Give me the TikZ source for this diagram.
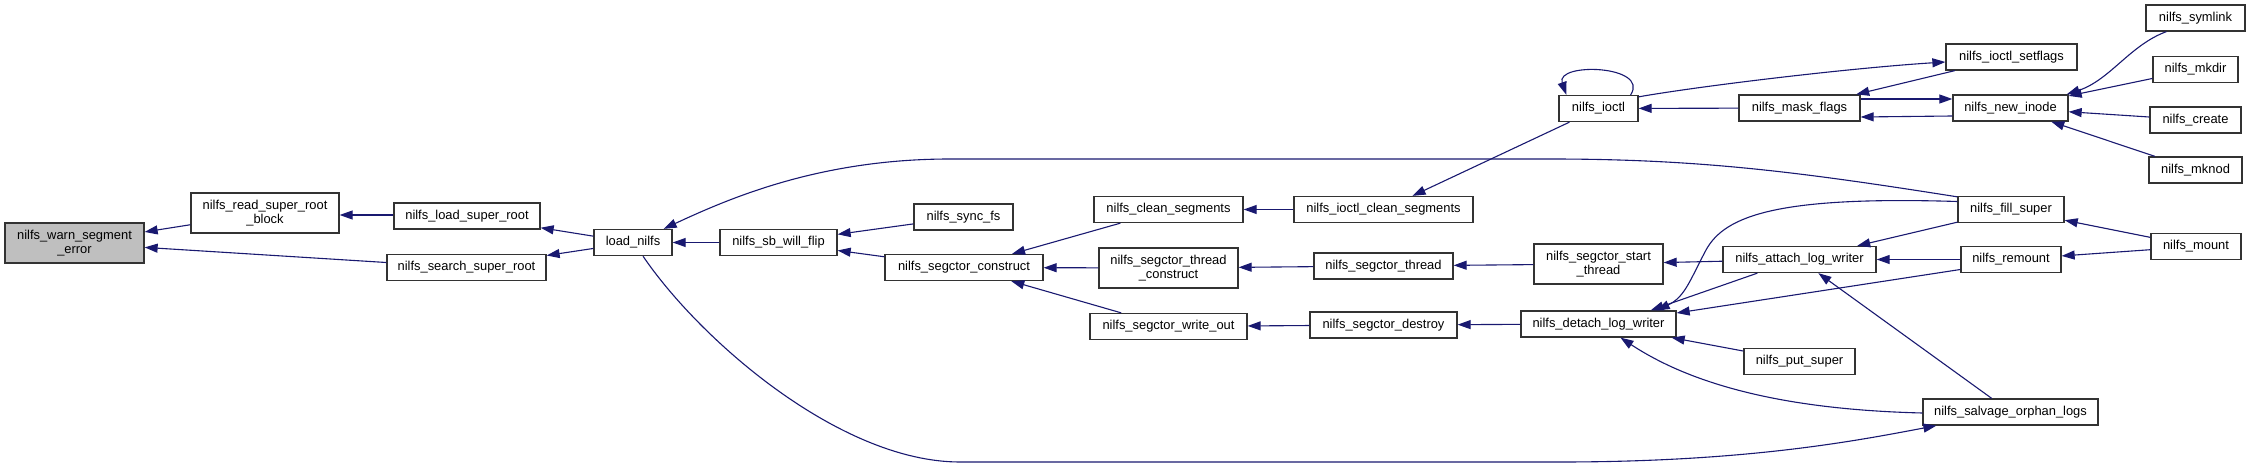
\documentclass[tikz,border=0pt]{standalone}
\usepackage{fontspec}
\setmainfont{Liberation Sans}
\usetikzlibrary{arrows.meta,calc}
\definecolor{edgecol}{HTML}{191970}
\definecolor{boxcol}{HTML}{333333}
\definecolor{rootfill}{HTML}{BFBFBF}
\begin{document}
\begin{tikzpicture}[x=1pt,y=-1pt,
  fn/.style={draw=boxcol,line width=1.3pt,fill=white,rectangle,inner sep=0pt,minimum height=26pt,align=center,font=\fontsize{12.9}{14.5}\selectfont},
  fn2/.style={fn,minimum height=40pt},
  e/.style={draw=edgecol,line width=1.1pt,-{Triangle[length=13pt,width=9pt]}}]
\useasboundingbox (0,0) rectangle (2251,468);
% nodes
\node[fn2,fill=rootfill,minimum width=139pt] (warn) at (74.5,243) {nilfs\_warn\_segment\\\_error};
\node[fn2,minimum width=148pt] (rsrb) at (265,213) {nilfs\_read\_super\_root\\\_block};
\node[fn,minimum width=146pt] (lsr) at (467,216) {nilfs\_load\_super\_root};
\node[fn,minimum width=159pt] (ssr) at (466.5,267.5) {nilfs\_search\_super\_root};
\node[fn,minimum width=78pt] (ln) at (633,242.5) {load\_nilfs};
\node[fn,minimum width=117pt] (sbwf) at (778.5,242.5) {nilfs\_sb\_will\_flip};
\node[fn,minimum width=99pt] (sync) at (963.5,217) {nilfs\_sync\_fs};
\node[fn,minimum width=158pt] (sc) at (964,267.5) {nilfs\_segctor\_construct};
\node[fn,minimum width=149pt] (clean) at (1168.5,209.5) {nilfs\_clean\_segments};
\node[fn2,minimum width=139pt] (tc) at (1168.5,268) {nilfs\_segctor\_thread\\\_construct};
\node[fn,minimum width=157pt] (wo) at (1168.5,326.5) {nilfs\_segctor\_write\_out};
\node[fn,minimum width=179pt] (icl) at (1383.5,209.5) {nilfs\_ioctl\_clean\_segments};
\node[fn,minimum width=139pt] (thr) at (1383.5,266) {nilfs\_segctor\_thread};
\node[fn,minimum width=147pt] (des) at (1383.5,325) {nilfs\_segctor\_destroy};
\node[fn,minimum width=79pt] (ioctl) at (1598.5,108.5) {nilfs\_ioctl};
\node[fn2,minimum width=129pt] (st) at (1598.5,264) {nilfs\_segctor\_start\\\_thread};
\node[fn,minimum width=155pt] (det) at (1598.5,324) {nilfs\_detach\_log\_writer};
\node[fn,minimum width=121pt] (mask) at (1799.5,108) {nilfs\_mask\_flags};
\node[fn,minimum width=153pt] (att) at (1799.5,259.5) {nilfs\_attach\_log\_writer};
\node[fn,minimum width=111pt] (put) at (1799.5,361.5) {nilfs\_put\_super};
\node[fn,minimum width=131pt] (setfl) at (2011.5,57) {nilfs\_ioctl\_setflags};
\node[fn,minimum width=115pt] (newi) at (2010.5,108) {nilfs\_new\_inode};
\node[fn,minimum width=106pt] (fill) at (2011,209.5) {nilfs\_fill\_super};
\node[fn,minimum width=100pt] (rem) at (2011,259.5) {nilfs\_remount};
\node[fn,minimum width=175pt] (salv) at (2010.5,412) {nilfs\_salvage\_orphan\_logs};
\node[fn,minimum width=99pt] (sym) at (2195.5,18) {nilfs\_symlink};
\node[fn,minimum width=85pt] (mkdir) at (2195.5,69.5) {nilfs\_mkdir};
\node[fn,minimum width=91pt] (create) at (2195.5,120) {nilfs\_create};
\node[fn,minimum width=93pt] (mknod) at (2195.5,170) {nilfs\_mknod};
\node[fn,minimum width=90pt] (mount) at (2196,246.5) {nilfs\_mount};
% edges
\draw[e] (rsrb) -- (warn);
\draw[e] (ssr) -- (warn);
\draw[e] ($(lsr.west)+(0,-1)$) -- ($(rsrb.east)+(0,2)$);
\draw[e] (ln) -- (lsr);
\draw[e] (ln) -- (ssr);
\draw[e] (sbwf) -- (ln);
\draw[e] ($(fill.north west)+(0,1)$) .. controls (1800,172) and (1700,159) .. (1550,159) -- (950,159) .. controls (820,159) and (730,198) .. ($(ln.north east)+(-9,0)$);
\draw[e] ($(ln.south)+(10,0)$) .. controls (700,340) and (840,462) .. (960,462) -- (1560,462) .. controls (1750,462) and (1860,440) .. ($(salv.south west)+(14,0)$);
\draw[e] (sync) -- (sbwf);
\draw[e] (sc) -- (sbwf);
\draw[e] (clean) -- (sc);
\draw[e] (tc) -- (sc);
\draw[e] (wo) -- (sc);
\draw[e] (icl) -- (clean);
\draw[e] (thr) -- (tc);
\draw[e] (des) -- (wo);
\draw[e] (st) -- (thr);
\draw[e] (det) -- (des);
\draw[e] (ioctl) -- (icl);
\draw[e] ($(ioctl.north east)+(-8,0)$) .. controls (1650,65) and (1555,62) .. ($(ioctl.north west)+(8,0)$);
\draw[e] (mask) -- (ioctl);
\draw[e] ($(ioctl.north east)+(0,2)$) .. controls (1700,86) and (1850,68) .. ($(setfl.west)+(0,5)$);
\draw[e] (setfl) -- (mask);
\draw[e] ($(mask.east)+(0,-9)$) -- ($(newi.west)+(0,-9)$);
\draw[e] ($(newi.west)+(0,8)$) -- ($(mask.east)+(0,9)$);
\draw[e] ($(sym.south west)+(21,0)$) .. controls (2130,45) and (2110,80) .. ($(newi.north east)+(-2,0)$);
\draw[e] (mkdir) -- (newi);
\draw[e] (create) -- (newi);
\draw[e] (mknod) -- (newi);
\draw[e] (mount) -- (fill);
\draw[e] (mount) -- (rem);
\draw[e] (fill) -- (att);
\draw[e] (rem) -- (att);
\draw[e] (salv) -- (att);
\draw[e] (att) -- (st);
\draw[e] ($(att.south west)+(35,0)$) -- ($(det.north east)+(-26,0)$);
\draw[e] ($(fill.west)+(0,-8)$) .. controls (1780,196) and (1725,215) .. (1706,250) .. controls (1690,280) and (1685,297) .. ($(det.north east)+(-20,0)$);
\draw[e] ($(rem.west)+(0,10)$) -- ($(det.east)+(0,-11)$);
\draw[e] (put) -- (det);
\draw[e] ($(salv.west)+(0,1)$) .. controls (1800,410) and (1700,390) .. ($(det.south)+(22,0)$);
\end{tikzpicture}
\end{document}
